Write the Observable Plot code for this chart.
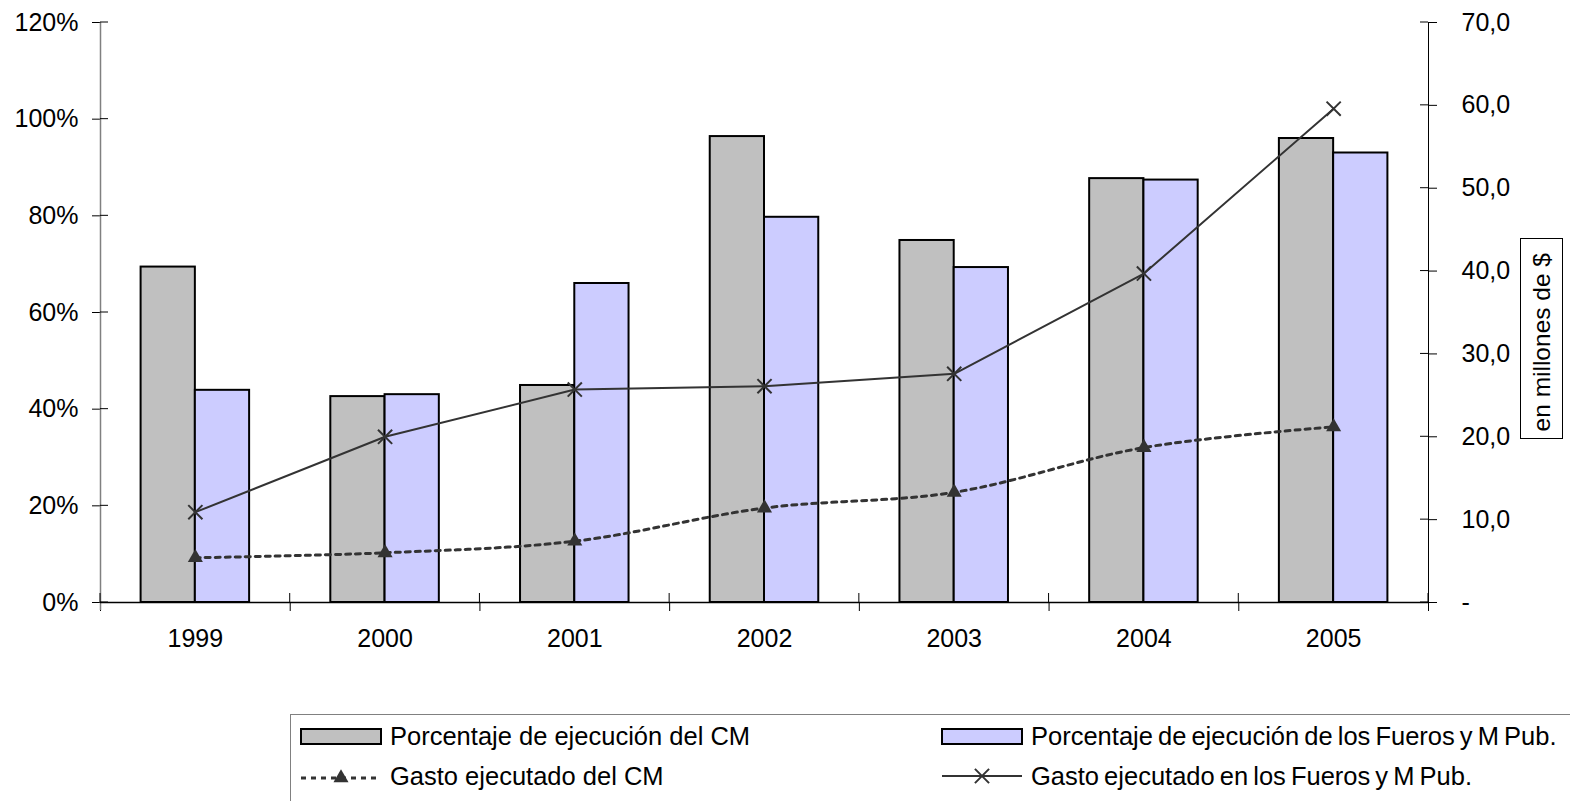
<!DOCTYPE html>
<html><head><meta charset="utf-8">
<script src="https://cdn.jsdelivr.net/npm/d3@7"></script>
<script src="https://cdn.jsdelivr.net/npm/@observablehq/plot@0.6"></script>
<style>
body{margin:0;background:#fff;font-family:"Liberation Sans",Arial,sans-serif;}
#wrap{position:relative;width:1570px;height:801px;overflow:hidden;background:#fff;}
#wrap svg.layer{position:absolute;left:0;top:0;}
#unit{position:absolute;left:1520px;top:238px;width:41px;height:199px;border:1px solid #000;display:flex;align-items:center;justify-content:center;}
#unit span{writing-mode:vertical-rl;transform:rotate(180deg);font-size:24.5px;white-space:nowrap;color:#000;position:relative;top:4px;}
#legend{position:absolute;left:290px;top:714px;width:1400px;height:110px;border:1px solid #808080;font-size:25.5px;color:#000;}
.item{position:absolute;display:flex;align-items:center;height:30px;white-space:nowrap;}
.item.right{word-spacing:-2px;}
.item svg{margin-right:8px;}
</style></head><body><div id="wrap"></div>
<script>
// ---- data ----
const years = ["1999","2000","2001","2002","2003","2004","2005"];
const pctCM = [69.4, 42.6, 44.9, 96.4, 74.9, 87.7, 96.0];
const pctFueros = [43.9, 43.0, 66.0, 79.7, 69.3, 87.4, 93.0];
const gastoCM = [5.4, 6.0, 7.4, 11.4, 13.3, 18.7, 21.2];
const gastoFueros = [10.9, 20.0, 25.7, 26.1, 27.6, 39.7, 59.6];
const pctTicks = [0, 20, 40, 60, 80, 100, 120];
const gastoTicks = [0, 10, 20, 30, 40, 50, 60, 70];
const seriesNames = ["Porcentaje de ejecución del CM", "Porcentaje de ejecución de los Fueros y M Pub.", "Gasto ejecutado del CM", "Gasto ejecutado en los Fueros y M Pub."];

const rows = years.map((y, i) => ({year: y, i, cm: pctCM[i], fu: pctFueros[i], gcm: gastoCM[i], gfu: gastoFueros[i]}));

const W = 1570, H = 700, mL = 100, mR = 142, mT = 22, mB = 98;
const bw = (W - mL - mR) / years.length;
const barW = bw * 0.286;
const outer = bw / 2 - barW;
const font = {fontFamily: "'Liberation Sans', Arial, sans-serif", fontSize: "25px", background: "transparent", color: "#000", overflow: "visible"};

const plotA = Plot.plot({
  width: W, height: H, marginLeft: mL, marginRight: mR, marginTop: mT, marginBottom: mB,
  style: font,
  x: {type: "band", domain: years, paddingInner: 0, paddingOuter: 0, round: false, tickSize: 0, tickPadding: 27, label: null},
  y: {domain: [0, 120], ticks: pctTicks, tickFormat: d => d + "%", tickSize: 8, tickPadding: 14, label: null},
  marks: [
    Plot.barY(rows, {x: "year", y: "cm", fill: "#c0c0c0", stroke: "#000", strokeWidth: 2, insetLeft: outer, insetRight: bw / 2}),
    Plot.barY(rows, {x: "year", y: "fu", fill: "#ccccff", stroke: "#000", strokeWidth: 2, insetLeft: bw / 2, insetRight: outer})
  ]
});

const xi = d => d.i + 0.5;
const plotB = Plot.plot({
  width: W, height: H, marginLeft: mL, marginRight: mR, marginTop: mT, marginBottom: mB,
  style: font,
  x: {type: "linear", domain: [0, years.length], ticks: d3.range(years.length + 1), tickFormat: () => "", tickSize: 9, label: null},
  y: {domain: [0, 70], axis: "right", ticks: gastoTicks, tickFormat: d => d === 0 ? "-" : d3.format(".1f")(d).replace(".", ","), tickSize: 8, tickPadding: 25, label: null},
  marks: [
    Plot.ruleX([0], {stroke: "#808080", strokeWidth: 1.5, insetBottom: -8}),
    Plot.ruleX([years.length], {stroke: "#000", strokeWidth: 1, insetBottom: -8}),
    Plot.ruleY([0], {stroke: "#000", strokeWidth: 1.5}),
    Plot.line(rows, {x: xi, y: "gcm", curve: "catmull-rom", stroke: "#333", strokeWidth: 3, strokeDasharray: "5,5"}),
    Plot.dot(rows, {x: xi, y: "gcm", symbol: "triangle", fill: "#333", stroke: "none", r: 5.6}),
    Plot.line(rows, {x: xi, y: "gfu", stroke: "#333", strokeWidth: 2}),
    Plot.dot(rows, {x: xi, y: "gfu", symbol: "times", stroke: "#333", strokeWidth: 2, r: 6.5})
  ]
});

plotA.classList.add("layer");
plotB.classList.add("layer");
const wrap = document.getElementById("wrap");
wrap.appendChild(plotA);
wrap.appendChild(plotB);

// inner halves of the crossing ticks, from the library scales
try {
  const sy = plotA.scale("y"), sy2 = plotB.scale("y"), sx = plotB.scale("x");
  const g = d3.select(plotB).append("g").attr("stroke", "#000").attr("stroke-width", 1);
  pctTicks.forEach(t => { const y = sy.apply(t); g.append("line").attr("x1", mL).attr("x2", mL + 8).attr("y1", y).attr("y2", y); });
  gastoTicks.forEach(t => { const y = sy2.apply(t); g.append("line").attr("x1", W - mR - 8).attr("x2", W - mR).attr("y1", y).attr("y2", y); });
  d3.range(years.length + 1).forEach(t => { const x = sx.apply(t); g.append("line").attr("x1", x).attr("x2", x).attr("y1", H - mB - 9).attr("y2", H - mB); });
} catch (e) {}

// unit label
const unit = document.createElement("div");
unit.id = "unit";
unit.innerHTML = "<span>en millones de $</span>";
wrap.appendChild(unit);

// legend
const legend = document.createElement("div");
legend.id = "legend";
const sw = {
  bar: c => `<svg width="82" height="17"><rect x="1" y="1" width="80" height="15" fill="${c}" stroke="#000" stroke-width="2"/></svg>`,
  dash: `<svg width="82" height="20"><line x1="1" x2="81" y1="12" y2="12" stroke="#333" stroke-width="3" stroke-dasharray="5,5"/><path d="${d3.symbol(d3.symbolTriangle, Math.PI*5.6*5.6)()}" transform="translate(41,12)" fill="#333"/></svg>`,
  solid: `<svg width="82" height="20"><line x1="1" x2="81" y1="10" y2="10" stroke="#333" stroke-width="2"/><path d="${d3.symbol(d3.symbolTimes, Math.PI*6.5*6.5)()}" transform="translate(41,10)" stroke="#333" stroke-width="2" fill="none"/></svg>`
};
const items = [
  {left: 9, top: 6, sw: sw.bar("#c0c0c0"), t: seriesNames[0], cls: ""},
  {left: 650, top: 6, sw: sw.bar("#ccccff"), t: seriesNames[1], cls: " right"},
  {left: 9, top: 46, sw: sw.dash, t: seriesNames[2], cls: ""},
  {left: 650, top: 46, sw: sw.solid, t: seriesNames[3], cls: " right"}
];
items.forEach(it => {
  const d = document.createElement("div");
  d.className = "item" + it.cls;
  d.style.left = it.left + "px";
  d.style.top = it.top + "px";
  d.innerHTML = it.sw + "<span>" + it.t + "</span>";
  legend.appendChild(d);
});
wrap.appendChild(legend);
</script>
</body></html>
